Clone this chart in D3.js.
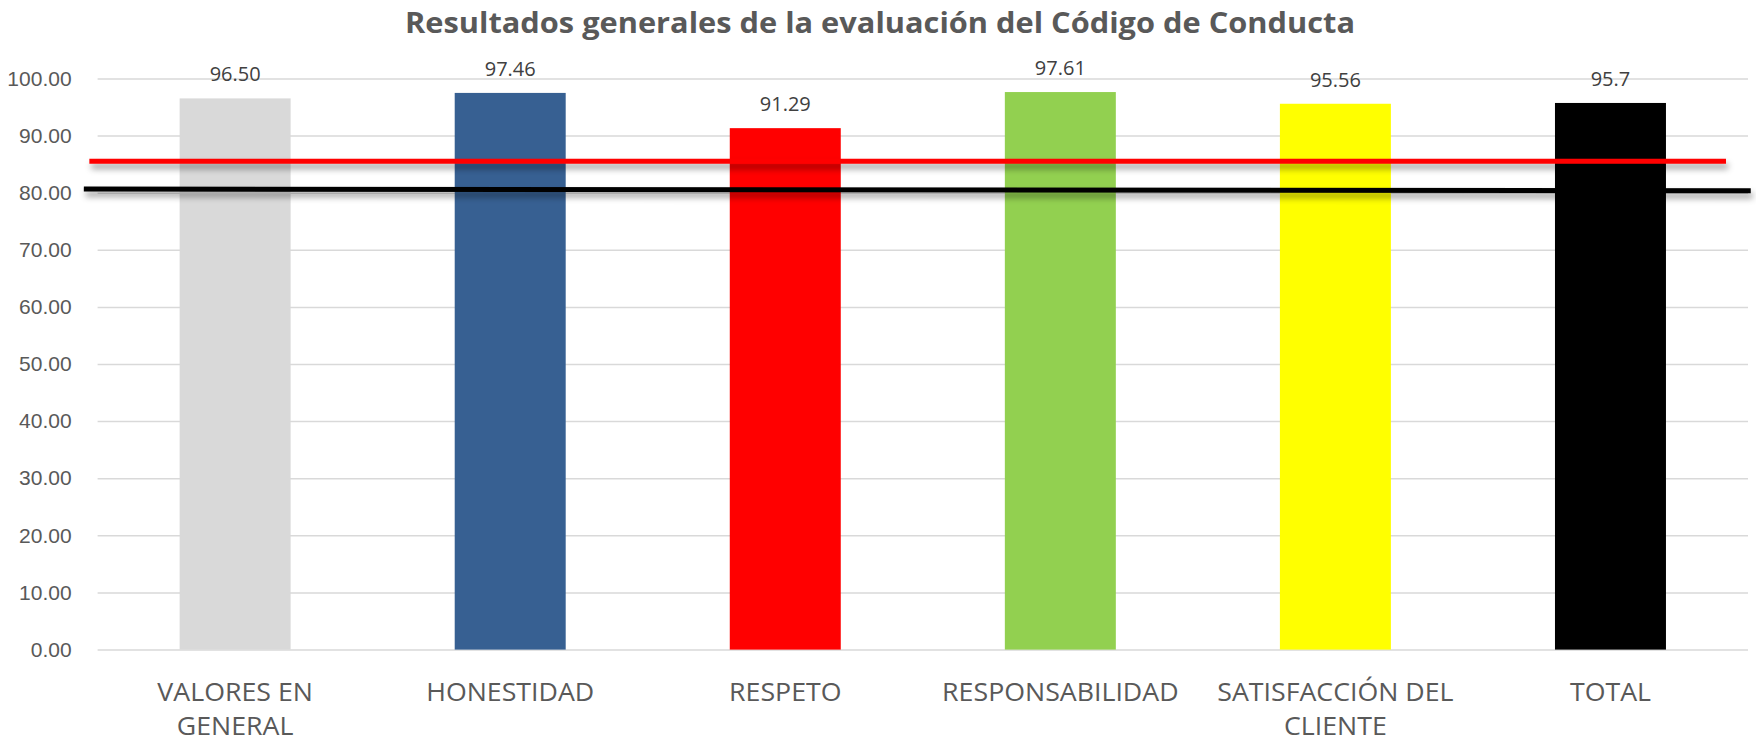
<!DOCTYPE html>
<html>
<head>
<meta charset="utf-8">
<script src="https://cdn.jsdelivr.net/npm/d3@7"></script>
<style>
  body { margin: 0; background: #ffffff; }
  svg { display: block; font-family: "Open Sans", "Noto Sans", sans-serif; }
  .grid line { stroke: #d9d9d9; stroke-width: 1.5px; }
  .grid path { stroke: none; }
  .axis text { fill: #595959; font-size: 21px; }
  .axis path, .axis line { stroke: none; }
  .title { fill: #595959; font-size: 29px; font-weight: bold; }
  .vlabel { fill: #404040; font-size: 20px; }
  .clabel { fill: #595959; font-size: 25px; }
</style>
</head>
<body>
<svg></svg>
<script>
// chart values
var categories = [["VALORES EN", "GENERAL"], ["HONESTIDAD"], ["RESPETO"], ["RESPONSABILIDAD"], ["SATISFACCIÓN DEL", "CLIENTE"], ["TOTAL"]];
var values = [96.50, 97.46, 91.29, 97.61, 95.56, 95.7];
var valueLabels = ["96.50", "97.46", "91.29", "97.61", "95.56", "95.7"];
var barColors = ["#d9d9d9", "#376092", "#ff0000", "#92d050", "#ffff00", "#000000"];
var yTicks = [0, 10, 20, 30, 40, 50, 60, 70, 80, 90, 100];

// reference lines: position along the category axis (0..6) and value at each end
var redLineX = [-0.03, 5.92];
var redLineY = [85.5, 85.5];
var blackLineX = [-0.05, 6.01];
var blackLineY = [80.64, 80.34];

var width = 1756, height = 742;
var margin = { top: 78.4, right: 8, bottom: 92.4, left: 97.6 };
var chartWidth = width - margin.left - margin.right,
    chartHeight = height - margin.top - margin.bottom;

var svg = d3.select('svg').attr('width', width).attr('height', height);

var x = d3.scaleBand()
    .domain(d3.range(values.length))
    .range([0, chartWidth])
    .paddingInner(0.5965)
    .paddingOuter(0.5965 / 2);
var xpos = d3.scaleLinear().domain([0, values.length]).range([0, chartWidth]);
var y = d3.scaleLinear().domain([0, 100]).range([chartHeight, 0]);

// shadow for the drawn lines (user space, so flat lines still render)
var defs = svg.append('defs');
var flt = defs.append('filter').attr('id', 'shadow')
    .attr('filterUnits', 'userSpaceOnUse')
    .attr('x', -200).attr('y', -200).attr('width', 2200).attr('height', 1000);
flt.append('feDropShadow')
    .attr('dx', 2).attr('dy', 5).attr('stdDeviation', 3)
    .attr('flood-color', '#000000').attr('flood-opacity', 0.4);

svg.append('text')
    .attr('class', 'title')
    .attr('x', 880)
    .attr('y', 33)
    .attr('text-anchor', 'middle')
    .attr('textLength', 950)
    .attr('lengthAdjust', 'spacingAndGlyphs')
    .text('Resultados generales de la evaluación del Código de Conducta');

var g = svg.append('g').attr('transform', 'translate(' + margin.left + ',' + margin.top + ')');

// gridlines
g.append('g')
    .attr('class', 'grid')
    .call(d3.axisLeft(y).tickValues(yTicks).tickSize(-chartWidth).tickFormat('').tickSizeOuter(0));

// y tick labels
g.append('g')
    .attr('class', 'axis')
    .call(d3.axisLeft(y).tickValues(yTicks).tickSize(0).tickPadding(26)
        .tickFormat(function(d) { return d.toFixed(2); }));

// bars
g.selectAll('.bar')
    .data(values)
    .enter()
    .append('rect')
    .attr('class', 'bar')
    .attr('x', function(d, i) { return x(i); })
    .attr('y', function(d) { return y(d); })
    .attr('width', x.bandwidth())
    .attr('height', function(d) { return y(0) - y(d); })
    .attr('fill', function(d, i) { return barColors[i]; });

// value labels
g.selectAll('.vlabel')
    .data(values)
    .enter()
    .append('text')
    .attr('class', 'vlabel')
    .attr('x', function(d, i) { return x(i) + x.bandwidth() / 2; })
    .attr('y', function(d) { return y(d) - 17; })
    .attr('text-anchor', 'middle')
    .text(function(d, i) { return valueLabels[i]; });

// category labels (slightly widened to match the original lettering)
var cl = g.selectAll('.clabel')
    .data(categories)
    .enter()
    .append('text')
    .attr('class', 'clabel')
    .attr('text-anchor', 'middle')
    .attr('transform', function(d, i) {
        return 'translate(' + (x(i) + x.bandwidth() / 2) + ',' + (chartHeight + 51) + ') scale(1.07,1)';
    });
cl.selectAll('tspan')
    .data(function(d) { return d; })
    .enter()
    .append('tspan')
    .attr('x', 0)
    .attr('y', function(d, j) { return j * 34.5; })
    .text(function(d) { return d; });

// reference lines
var drawref = function(xs, ys, color)
{
    g.append('line')
        .attr('x1', xpos(xs[0]))
        .attr('x2', xpos(xs[1]))
        .attr('y1', y(ys[0]))
        .attr('y2', y(ys[1]))
        .attr('stroke', color)
        .attr('stroke-width', 5)
        .attr('filter', 'url(#shadow)');
}
drawref(redLineX, redLineY, '#ff0000');
drawref(blackLineX, blackLineY, '#000000');
</script>
</body>
</html>
